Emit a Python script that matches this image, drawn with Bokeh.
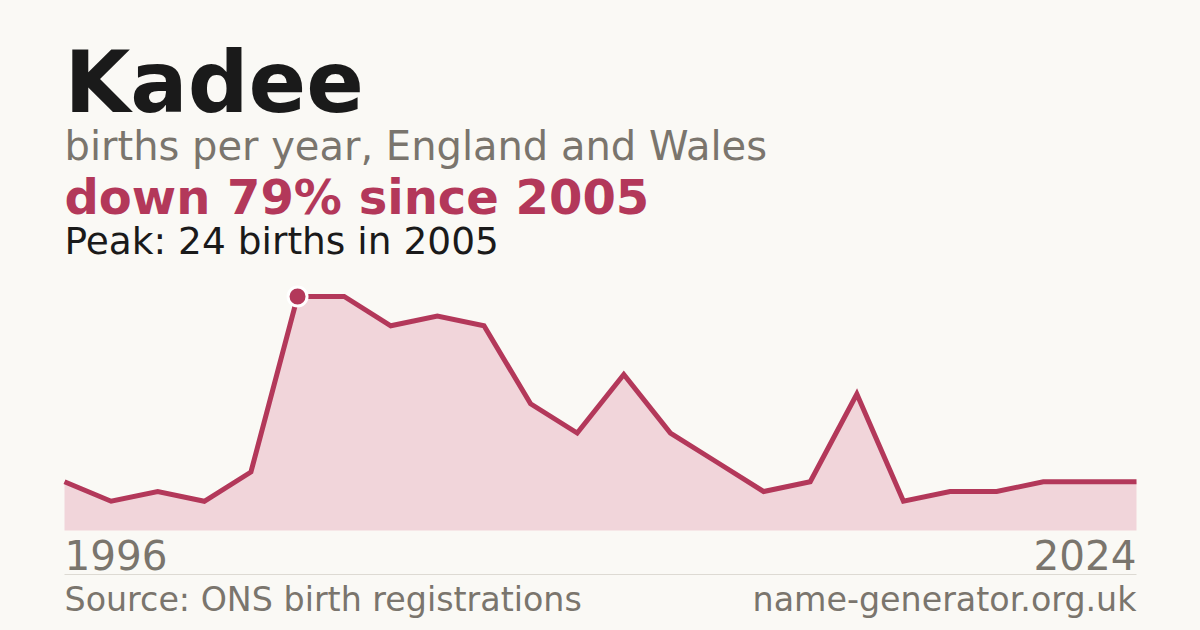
from bokeh.plotting import figure
from bokeh.models import Range1d, Label
from bokeh.embed import file_html
from bokeh.resources import INLINE

# ---- data ----
name = "Kadee"
years = [1996, 1998, 2000, 2002, 2004, 2005, 2006, 2007, 2008, 2009, 2010, 2011,
         2012, 2013, 2014, 2015, 2016, 2017, 2018, 2019, 2020, 2021, 2022, 2024]
births = [5, 3, 4, 3, 6, 24, 24, 21, 22, 21, 13, 10,
          16, 10, 7, 4, 5, 14, 3, 4, 4, 5, 5, 5]
first_label = "1996"
last_label = "2024"
subtitle = "births per year, England and Wales"
change_text = "down 79% since 2005"
peak_text = "Peak: 24 births in 2005"
source_text = "Source: ONS birth registrations"
site_text = "name-generator.org.uk"

# ---- styling / layout ----
W, H = 1200, 630
OFF = 0
BG = "#FAF9F5"
RED = "#B3385A"
FILL = "#F1D5DA"
GREY = "#7A756D"
DARK = "#1A1A1A"
FONT = "DejaVu Sans"
BASE_FIX = 0.37  # empirical alphabetic-baseline correction (fraction of font size)

# chart area in reference pixels
cx0, cx1 = 64, 1136
base_y = 530
px_per_unit = 9.75

xs = list(range(len(births)))
n = len(xs) - 1
upx = n / (cx1 - cx0)
x_start = -(cx0 - OFF) * upx
x_end = x_start + W * upx
y_start = -(OFF + H - base_y) / px_per_unit
y_end = (base_y - OFF) / px_per_unit

p = figure(width=W, height=H, output_backend="svg", toolbar_location=None,
           x_range=Range1d(x_start, x_end), y_range=Range1d(y_start, y_end),
           min_border=0, background_fill_color=BG, border_fill_color=BG)
p.axis.visible = False
p.grid.visible = False
p.outline_line_color = None

# area + line
p.varea(x=xs, y1=[0] * len(xs), y2=births, fill_color=FILL)
p.line(x=xs, y=births, line_color=RED, line_width=5, line_join="miter")

# peak marker
peak_val = max(births)
peak_i = births.index(peak_val)
p.scatter(x=[xs[peak_i]], y=[peak_val], size=19, fill_color=RED,
          line_color="white", line_width=3)

# divider
div_y = (base_y - 574) / px_per_unit
p.segment(x0=[xs[0]], y0=[div_y], x1=[xs[-1]], y1=[div_y],
          line_color="#DDDAD3", line_width=1)

def lab(text, x, baseline, size, color, bold=False, align="left"):
    b = baseline - OFF - BASE_FIX * size
    p.add_layout(Label(x=x - OFF, y=H - b, x_units="screen",
                       y_units="screen", text=text, text_font=FONT,
                       text_font_size=f"{size}px", text_color=color,
                       text_font_style="bold" if bold else "normal",
                       text_align=align, text_baseline="alphabetic"))

lab(name, 64, 113, 85, DARK, bold=True)
lab(subtitle, 64, 160, 40, GREY)
lab(change_text, 64, 214, 48, RED, bold=True)
lab(peak_text, 64, 254, 37.5, DARK)
lab(first_label, 64, 569, 40.5, GREY)
lab(last_label, 1136, 569, 40.5, GREY, align="right")
lab(source_text, 64, 611, 33.3, GREY)
lab(site_text, 1136, 611, 33.3, GREY, align="right")

html = file_html(p, INLINE)
html = html.replace("<head>", "<head><style>body{background:%s;}</style>" % BG, 1)
open("out.html", "w").write(html)
